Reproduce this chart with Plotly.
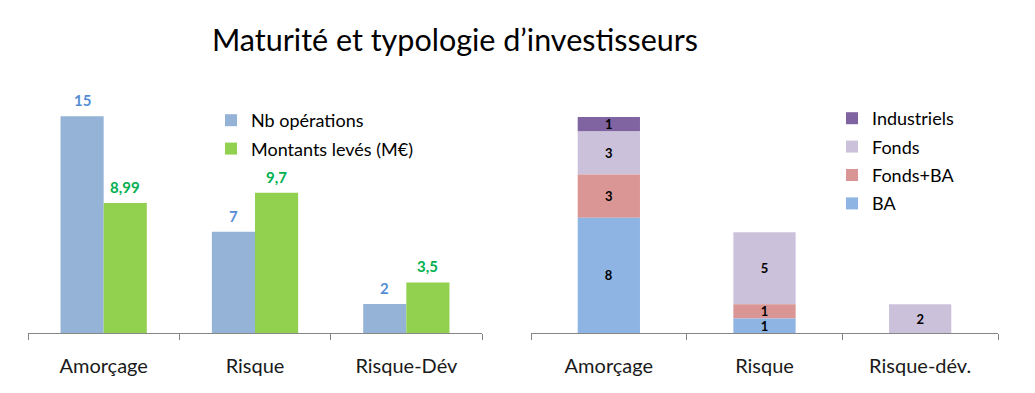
import plotly.graph_objects as go

# ---- data ----
left_categories = ["Amorçage", "Risque", "Risque-Dév"]
nb_operations = [15, 7, 2]
montants_leves = [8.99, 9.7, 3.5]
montants_labels = ["8,99", "9,7", "3,5"]

right_categories = ["Amorçage", "Risque", "Risque-dév."]
stack_names = ["BA", "Fonds+BA", "Fonds", "Industriels"]
ba = [8, 1, 0]
fonds_ba = [3, 1, 0]
fonds = [3, 5, 2]
industriels = [1, 0, 0]

title_text = "Maturité et typologie d’investisseurs"

# ---- style ----
FONT = "Lato"
blue_bar = "#95B3D7"
green_bar = "#92D050"
blue_lbl = "#558ED5"
green_lbl = "#00B050"
stack_colors = ["#8EB4E3", "#D99694", "#CCC1DA", "#8064A2"]
axis_col = "#868686"

# page body has an 8px margin; figure is sized to fit the window
OFF = 8
FW, FH = 1035 - OFF, 393 - OFF


def px(x):
    return (x - OFF) / FW


def py(y):
    return 1 - (y - OFF) / FH


fig = go.Figure()

W = 0.285
fig.add_trace(go.Bar(x=left_categories, y=nb_operations, name="Nb opérations",
                     marker=dict(color=blue_bar, line=dict(width=0)),
                     width=W, offset=-W, xaxis="x", yaxis="y", legend="legend",
                     legendgroup="a"))
fig.add_trace(go.Bar(x=left_categories, y=montants_leves, name="Montants levés (M€)",
                     marker=dict(color=green_bar, line=dict(width=0)),
                     width=W, offset=0, xaxis="x", yaxis="y", legend="legend",
                     legendgroup="b"))

annotations = []
for i, v in enumerate(nb_operations):
    annotations.append(dict(x=i - W / 2, y=v, xref="x", yref="y", text=str(v),
                            showarrow=False, yanchor="bottom", yshift=5,
                            font=dict(family=FONT, size=15, color=blue_lbl, weight="bold")))
for i, (v, t) in enumerate(zip(montants_leves, montants_labels)):
    annotations.append(dict(x=i + W / 2, y=v, xref="x", yref="y", text=t,
                            showarrow=False, yanchor="bottom", yshift=5,
                            font=dict(family=FONT, size=15, color=green_lbl, weight="bold")))

# stacked bars: compute bases bottom-up, then add traces top-down so the legend
# lists Industriels first (as in the reference)
series = [ba, fonds_ba, fonds, industriels]
bases = []
acc = [0, 0, 0]
for vals in series:
    bases.append(list(acc))
    acc = [a + v for a, v in zip(acc, vals)]

for idx in reversed(range(len(series))):
    name, vals, col, b = stack_names[idx], series[idx], stack_colors[idx], bases[idx]
    texts = [str(v) if v > 0 else "" for v in vals]
    fig.add_trace(go.Bar(x=right_categories, y=vals, base=b, name=name,
                         marker=dict(color=col, line=dict(width=0)),
                         width=0.4, text=texts, textposition="inside", textangle=0,
                         insidetextanchor="middle", constraintext="none",
                         textfont=dict(family=FONT, size=13, color="black", weight="bold"),
                         xaxis="x2", yaxis="y2", legend="legend2", legendgroup=name))

ydom = [py(333), py(80)]
tickfont = dict(family=FONT, size=20, color="#1a1a1a")
xcommon = dict(type="category", showline=True, linecolor=axis_col, linewidth=1,
               ticks="outside", tickson="boundaries", ticklen=6, tickcolor=axis_col,
               tickfont=tickfont, showgrid=False, zeroline=False, range=[-0.5, 2.5],
               ticklabelstandoff=15, automargin=False)

fig.update_layout(
    width=FW, height=FH,
    margin=dict(l=0, r=0, t=0, b=0, autoexpand=False),
    paper_bgcolor="white", plot_bgcolor="white",
    barmode="overlay",
    title=dict(text=title_text, x=px(455), xanchor="center", y=py(40), yanchor="middle",
               font=dict(family=FONT, size=30.5, color="black")),
    xaxis=dict(domain=[px(28), px(482)], anchor="y", **xcommon),
    xaxis2=dict(domain=[px(531), px(998)], anchor="y2", **xcommon),
    yaxis=dict(domain=ydom, range=[0, 253 / 14.45], visible=False, anchor="x", automargin=False),
    yaxis2=dict(domain=ydom, range=[0, 253 / 14.4], visible=False, anchor="x2", automargin=False),
    legend=dict(x=px(211), y=py(102), xanchor="left", yanchor="top",
                font=dict(family=FONT, size=18, color="black"), tracegroupgap=2,
                traceorder="grouped", itemwidth=30, bgcolor="rgba(0,0,0,0)"),
    legend2=dict(x=px(832), y=py(100), xanchor="left", yanchor="top",
                 font=dict(family=FONT, size=18, color="black"), tracegroupgap=2,
                 itemwidth=30, traceorder="grouped", bgcolor="rgba(0,0,0,0)"),
    annotations=annotations,
    showlegend=True,
)

fig.write_html("out.html")
